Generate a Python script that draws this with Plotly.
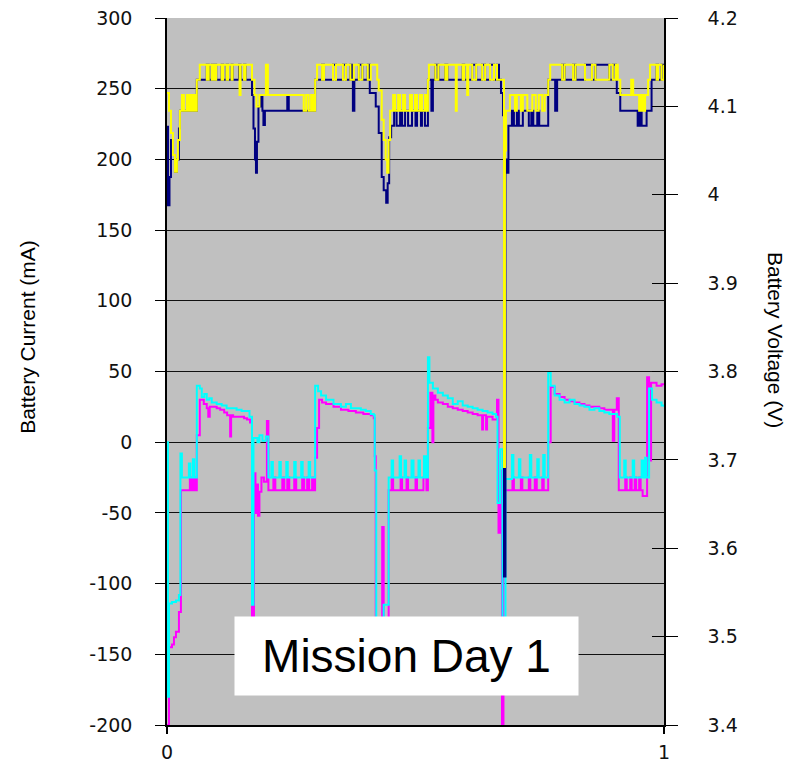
import plotly.graph_objects as go

# ---------------- data (time fraction of mission day, value) ----------------
# Battery voltage, upper trace (V)
volt_yellow = [
    (0.000, 4.115), (0.004, 4.095), (0.008, 4.070), (0.012, 4.045), (0.016, 4.026), (0.020, 4.040),
    (0.022, 4.062), (0.026, 4.095), (0.030, 4.113), (0.034, 4.095), (0.040, 4.113), (0.044, 4.095),
    (0.048, 4.113), (0.050, 4.095), (0.054, 4.113), (0.057, 4.095), (0.060, 4.130), (0.066, 4.147),
    (0.080, 4.130), (0.084, 4.147), (0.090, 4.130), (0.092, 4.147), (0.096, 4.130), (0.099, 4.147),
    (0.110, 4.130), (0.113, 4.147), (0.120, 4.130), (0.123, 4.147), (0.130, 4.130), (0.132, 4.147),
    (0.146, 4.113), (0.148, 4.147), (0.155, 4.130), (0.158, 4.147), (0.171, 4.130), (0.176, 4.113),
    (0.180, 4.100), (0.186, 4.113), (0.199, 4.147), (0.203, 4.113), (0.275, 4.095), (0.280, 4.113),
    (0.285, 4.095), (0.290, 4.113), (0.294, 4.095), (0.298, 4.130), (0.302, 4.147), (0.312, 4.130),
    (0.316, 4.147), (0.334, 4.130), (0.340, 4.147), (0.354, 4.130), (0.360, 4.147), (0.369, 4.130),
    (0.376, 4.147), (0.386, 4.130), (0.393, 4.147), (0.404, 4.130), (0.410, 4.147), (0.423, 4.130),
    (0.426, 4.118), (0.432, 4.085), (0.436, 4.062), (0.440, 4.040), (0.443, 4.025), (0.446, 4.062),
    (0.449, 4.095), (0.455, 4.113), (0.459, 4.095), (0.465, 4.113), (0.469, 4.095), (0.475, 4.113),
    (0.479, 4.095), (0.489, 4.113), (0.493, 4.095), (0.499, 4.113), (0.503, 4.095), (0.509, 4.113),
    (0.513, 4.095), (0.519, 4.113), (0.523, 4.095), (0.525, 4.130), (0.527, 4.147), (0.540, 4.130),
    (0.546, 4.147), (0.560, 4.130), (0.564, 4.147), (0.581, 4.095), (0.583, 4.147), (0.595, 4.130),
    (0.598, 4.147), (0.604, 4.113), (0.606, 4.147), (0.614, 4.130), (0.622, 4.147), (0.634, 4.130),
    (0.640, 4.147), (0.650, 4.130), (0.658, 4.147), (0.664, 4.130), (0.678, 3.692), (0.680, 4.050),
    (0.682, 4.095), (0.690, 4.113), (0.700, 4.095), (0.704, 4.113), (0.712, 4.095), (0.716, 4.113),
    (0.725, 4.095), (0.735, 4.113), (0.742, 4.095), (0.748, 4.113), (0.755, 4.095), (0.760, 4.113),
    (0.767, 4.130), (0.771, 4.147), (0.795, 4.130), (0.800, 4.147), (0.817, 4.130), (0.822, 4.147),
    (0.841, 4.130), (0.855, 4.147), (0.862, 4.130), (0.890, 4.147), (0.897, 4.130), (0.903, 4.147),
    (0.907, 4.130), (0.912, 4.113), (0.934, 4.130), (0.938, 4.113), (0.950, 4.095), (0.954, 4.113),
    (0.958, 4.095), (0.962, 4.113), (0.968, 4.130), (0.972, 4.147), (0.985, 4.130), (0.988, 4.147),
    (0.995, 4.130), (1.000, 4.147),
]

# Battery voltage, lower trace (V)
volt_navy = [
    (0.000, 4.077), (0.002, 3.988), (0.005, 4.020), (0.008, 4.062), (0.012, 4.045), (0.016, 4.026),
    (0.020, 4.040), (0.024, 4.075), (0.026, 4.095), (0.060, 4.130), (0.080, 4.147), (0.084, 4.130),
    (0.090, 4.147), (0.092, 4.130), (0.096, 4.147), (0.099, 4.130), (0.110, 4.147), (0.113, 4.130),
    (0.120, 4.147), (0.123, 4.130), (0.130, 4.147), (0.132, 4.130), (0.145, 4.147), (0.148, 4.130),
    (0.155, 4.147), (0.158, 4.130), (0.171, 4.113), (0.174, 4.075), (0.177, 4.040), (0.179, 4.025),
    (0.181, 4.060), (0.184, 4.100), (0.189, 4.113), (0.192, 4.095), (0.194, 4.079), (0.197, 4.095),
    (0.242, 4.113), (0.245, 4.095), (0.298, 4.130), (0.312, 4.147), (0.316, 4.130), (0.334, 4.147),
    (0.340, 4.130), (0.354, 4.147), (0.360, 4.130), (0.369, 4.147), (0.372, 4.130), (0.374, 4.095),
    (0.377, 4.130), (0.386, 4.147), (0.393, 4.130), (0.404, 4.147), (0.408, 4.115), (0.420, 4.100),
    (0.426, 4.070), (0.432, 4.020), (0.436, 4.005), (0.441, 3.991), (0.444, 4.013), (0.447, 4.065),
    (0.451, 4.078), (0.457, 4.095), (0.462, 4.078), (0.469, 4.095), (0.473, 4.078), (0.479, 4.095),
    (0.485, 4.078), (0.493, 4.095), (0.500, 4.078), (0.503, 4.095), (0.511, 4.078), (0.513, 4.095),
    (0.519, 4.078), (0.525, 4.130), (0.532, 4.095), (0.535, 4.130), (0.540, 4.147), (0.546, 4.130),
    (0.560, 4.147), (0.564, 4.130), (0.595, 4.147), (0.598, 4.130), (0.614, 4.147), (0.622, 4.130),
    (0.634, 4.147), (0.640, 4.130), (0.650, 4.147), (0.658, 4.130), (0.664, 4.147), (0.668, 4.130),
    (0.672, 4.115), (0.676, 4.090), (0.678, 3.568), (0.681, 4.040), (0.684, 4.025), (0.687, 4.078),
    (0.694, 4.095), (0.698, 4.078), (0.704, 4.095), (0.708, 4.078), (0.716, 4.095), (0.728, 4.078),
    (0.733, 4.095), (0.737, 4.078), (0.745, 4.095), (0.749, 4.078), (0.767, 4.130), (0.781, 4.095),
    (0.785, 4.130), (0.795, 4.147), (0.800, 4.130), (0.817, 4.147), (0.822, 4.130), (0.841, 4.147),
    (0.855, 4.130), (0.862, 4.147), (0.890, 4.130), (0.897, 4.147), (0.903, 4.130), (0.905, 4.115),
    (0.912, 4.095), (0.947, 4.078), (0.951, 4.095), (0.955, 4.078), (0.965, 4.095), (0.975, 4.130),
    (0.985, 4.147), (0.988, 4.130), (0.995, 4.147), (1.000, 4.130),
]

# Battery current, trace 1 (mA)
curr_magenta = [
    (0.000, -200), (0.004, -145), (0.010, -143), (0.014, -138), (0.018, -134), (0.024, -120),
    (0.028, -34), (0.046, -25), (0.050, -34), (0.054, -25), (0.057, -34), (0.060, 5), (0.066, 30),
    (0.074, 27), (0.080, 24), (0.083, 18), (0.086, 25), (0.093, 25), (0.100, 24), (0.107, 23),
    (0.115, 21), (0.121, 19), (0.127, 4), (0.129, 19), (0.133, 18), (0.147, 18), (0.155, 17),
    (0.161, 16), (0.167, 14), (0.171, -140), (0.175, -22), (0.178, -50), (0.180, -30), (0.183, -52),
    (0.186, -35), (0.190, -25), (0.195, -28), (0.201, 15), (0.204, -34), (0.214, -25), (0.218, -34),
    (0.232, -25), (0.236, -34), (0.242, -25), (0.246, -34), (0.256, -25), (0.260, -34), (0.272, -25),
    (0.276, -34), (0.282, -25), (0.286, -34), (0.292, -25), (0.296, -34), (0.298, -11), (0.302, 10),
    (0.306, 30), (0.312, 28), (0.320, 27), (0.335, 25), (0.350, 23), (0.365, 22), (0.380, 21),
    (0.395, 20), (0.410, 19), (0.416, 17), (0.418, -10), (0.420, -130), (0.424, -165), (0.430, -125),
    (0.433, -60), (0.436, -160), (0.442, -130), (0.446, -34), (0.452, -25), (0.455, -34), (0.470, -25),
    (0.473, -34), (0.482, -25), (0.485, -34), (0.500, -25), (0.503, -34), (0.516, -25), (0.522, -34),
    (0.525, 10), (0.530, 35), (0.534, 0), (0.536, 33), (0.540, 30), (0.545, 28), (0.555, 27),
    (0.565, 25), (0.575, 24), (0.585, 23), (0.595, 22), (0.605, 21), (0.615, 20), (0.625, 19),
    (0.634, 9), (0.636, 19), (0.642, 9), (0.644, 18), (0.655, 16), (0.664, 30), (0.667, -64),
    (0.670, -20), (0.674, -200), (0.677, -40), (0.680, -34), (0.695, -25), (0.698, -34), (0.712, -25),
    (0.715, -34), (0.728, -25), (0.731, -34), (0.740, -25), (0.744, -34), (0.755, -25), (0.758, -34),
    (0.767, 0), (0.772, 39), (0.780, 34), (0.790, 32), (0.800, 30), (0.810, 29), (0.820, 28),
    (0.830, 27), (0.840, 26), (0.850, 25), (0.870, 24), (0.880, 23), (0.895, 23), (0.897, 1),
    (0.900, 23), (0.905, 31), (0.909, -34), (0.922, -25), (0.925, -34), (0.932, -25), (0.935, -34),
    (0.941, -25), (0.944, -34), (0.950, -25), (0.953, -34), (0.957, -38), (0.966, 46), (0.970, -13),
    (0.974, 42), (0.985, 40), (0.995, 41), (1.000, 41),
]

# Battery current, trace 2 (mA)
curr_cyan = [
    (0.000, 0), (0.002, -180), (0.004, -114), (0.010, -113), (0.018, -112), (0.024, -108),
    (0.027, -8), (0.030, -25), (0.044, -15), (0.047, -25), (0.052, -12), (0.055, -25), (0.060, 40),
    (0.066, 38), (0.070, 32), (0.075, 34), (0.080, 30), (0.085, 31), (0.090, 28), (0.100, 27),
    (0.110, 26), (0.120, 24), (0.130, 24), (0.140, 23), (0.150, 22), (0.160, 22), (0.166, 18),
    (0.171, -115), (0.174, 3), (0.182, 0), (0.186, 5), (0.192, 1), (0.199, 4), (0.204, -25),
    (0.210, -14), (0.213, -25), (0.226, -14), (0.229, -25), (0.240, -14), (0.243, -25), (0.256, -14),
    (0.259, -25), (0.270, -14), (0.273, -25), (0.285, -14), (0.288, -25), (0.298, 40), (0.304, 36),
    (0.310, 33), (0.320, 30), (0.335, 27), (0.350, 25), (0.360, 27), (0.370, 24), (0.380, 24),
    (0.390, 23), (0.400, 22), (0.410, 20), (0.416, 19), (0.418, -20), (0.421, -135), (0.436, -115),
    (0.446, -25), (0.452, -13), (0.455, -25), (0.468, -10), (0.471, -25), (0.478, -13), (0.481, -25),
    (0.492, -13), (0.496, -25), (0.506, -13), (0.509, -25), (0.517, -10), (0.521, -25), (0.525, 60),
    (0.528, 42), (0.535, 38), (0.545, 35), (0.555, 33), (0.565, 31), (0.575, 27), (0.585, 29),
    (0.595, 26), (0.605, 25), (0.615, 24), (0.625, 23), (0.635, 22), (0.645, 21), (0.655, 20),
    (0.662, 18), (0.665, -43), (0.670, -5), (0.675, -170), (0.681, -26), (0.694, -9), (0.697, -25),
    (0.708, -12), (0.711, -25), (0.730, -9), (0.733, -25), (0.745, -12), (0.748, -25), (0.757, -9),
    (0.760, -25), (0.767, 49), (0.772, 40), (0.780, 33), (0.790, 30), (0.800, 28), (0.810, 30),
    (0.820, 27), (0.830, 26), (0.840, 25), (0.850, 23), (0.860, 24), (0.870, 22), (0.880, 21),
    (0.890, 20), (0.900, 20), (0.906, 18), (0.911, -25), (0.920, -13), (0.923, -25), (0.937, -13),
    (0.940, -25), (0.955, -13), (0.958, -25), (0.962, -11), (0.965, -25), (0.970, 38), (0.976, 30),
    (0.985, 28), (0.995, 26), (1.000, 25),
]

current_ticks = [-200, -150, -100, -50, 0, 50, 100, 150, 200, 250, 300]
current_ticktext = ["-200", "-150", "-100", "-50", "0", "50", "100", "150", "200", "250", "300"]
voltage_ticks = [3.4, 3.5, 3.6, 3.7, 3.8, 3.9, 4.0, 4.1, 4.2]
voltage_ticktext = ["3.4", "3.5", "3.6", "3.7", "3.8", "3.9", "4", "4.1", "4.2"]
time_ticks = [0, 1]
time_ticktext = ["0", "1"]

left_title = "Battery Current (mA)"
right_title = "Battery Voltage (V)"
note_text = "Mission Day 1"


def unzip(pts):
    return [p[0] for p in pts], [p[1] for p in pts]


fig = go.Figure()

mx, my = unzip(curr_magenta)
cx, cy = unzip(curr_cyan)
nx, ny = unzip(volt_navy)
yx, yy = unzip(volt_yellow)

fig.add_trace(go.Scatter(x=mx, y=my, mode="lines", line=dict(color="#FF00FF", width=2, shape="hv"),
                         yaxis="y", showlegend=False, hoverinfo="skip"))
fig.add_trace(go.Scatter(x=cx, y=cy, mode="lines", line=dict(color="#00FFFF", width=2, shape="hv"),
                         yaxis="y", showlegend=False, hoverinfo="skip"))
fig.add_trace(go.Scatter(x=nx, y=ny, mode="lines", line=dict(color="#000080", width=2, shape="hv"),
                         yaxis="y2", showlegend=False, hoverinfo="skip"))
fig.add_trace(go.Scatter(x=yx, y=yy, mode="lines", line=dict(color="#FFFF00", width=2, shape="hv"),
                         yaxis="y2", showlegend=False, hoverinfo="skip"))
# empty trace so the inner-tick overlay axis is drawn
fig.add_trace(go.Scatter(x=[], y=[], yaxis="y3", showlegend=False, hoverinfo="skip"))

tick_font = dict(family="DejaVu Sans", size=19, color="#111111")

# the page body adds an 8 px offset, so the figure is 8 px smaller and margins shifted
fig.update_layout(
    width=784, height=756,
    margin=dict(l=159, r=128, t=10, b=39, autoexpand=False),
    paper_bgcolor="white",
    plot_bgcolor="#C0C0C0",
    showlegend=False,
    xaxis=dict(range=[0, 1], tickvals=time_ticks, ticktext=time_ticktext, showgrid=False,
               zeroline=False, showline=True, linecolor="black", linewidth=1.5,
               ticks="outside", ticklen=7, tickwidth=1.5, tickcolor="black", automargin=False,
               tickfont=tick_font, ticklabelstandoff=2, ticklabeloverflow="allow"),
    yaxis=dict(range=[-200, 300], tickvals=current_ticks, ticktext=current_ticktext,
               showgrid=True, gridcolor="#111111", automargin=False, ticklabeloverflow="allow",
               gridwidth=1.2, zeroline=False, showline=True, linecolor="black", linewidth=1.5,
               ticks="outside", ticklen=10, tickwidth=1.3, tickcolor="black",
               tickfont=tick_font, ticklabelstandoff=19),
    yaxis2=dict(range=[3.4, 4.2], overlaying="y", side="right", tickvals=voltage_ticks,
                ticktext=voltage_ticktext, showgrid=False, zeroline=False, showline=True,
                linecolor="black", linewidth=1.5, ticks="outside", ticklen=12, tickwidth=1.3,
                tickcolor="black", tickfont=tick_font, ticklabelstandoff=26, automargin=False,
                ticklabeloverflow="allow"),
    yaxis3=dict(range=[3.4, 4.2], overlaying="y", side="right", tickvals=voltage_ticks,
                showticklabels=False, showgrid=False, zeroline=False, showline=False,
                ticks="inside", ticklen=12, tickwidth=1.3, tickcolor="black", automargin=False),
    annotations=[
        dict(text=left_title, xref="paper", yref="paper", x=-0.2797, y=0.549, textangle=-90,
             showarrow=False, xanchor="center", yanchor="middle",
             font=dict(family="Liberation Sans", size=21, color="black")),
        dict(text=right_title, xref="paper", yref="paper", x=1.2233, y=0.5446, textangle=90,
             showarrow=False, xanchor="center", yanchor="middle",
             font=dict(family="Liberation Sans", size=21, color="black")),
        dict(text=note_text, xref="paper", yref="paper", x=0.482, y=0.0976, showarrow=False,
             xanchor="center", yanchor="middle", bgcolor="white", width=343, height=78,
             borderpad=0, align="center",
             font=dict(family="Liberation Sans", size=46, color="black")),
    ],
)

fig.write_html("out.html")
